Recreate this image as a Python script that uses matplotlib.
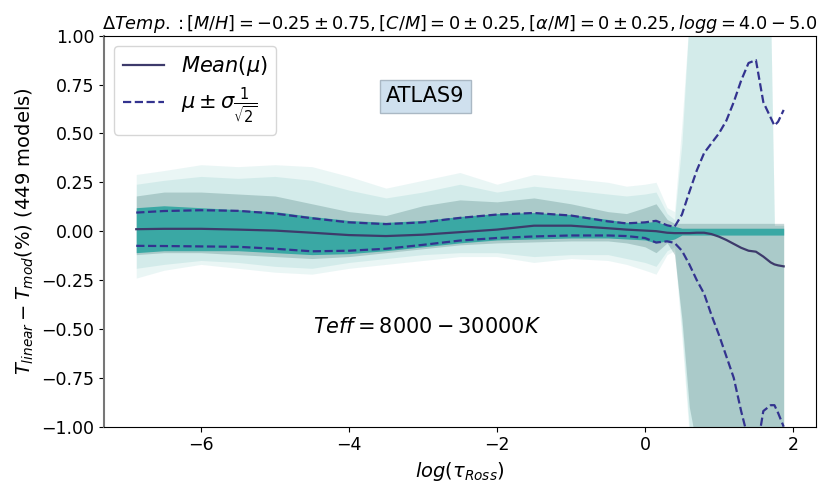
import matplotlib
matplotlib.use("Agg")
import matplotlib.pyplot as plt
import numpy as np

# log(tau_Ross) grid
log_tau = [-6.875, -6.5, -6.0, -5.5, -5.0, -4.5, -4.0, -3.5, -3.0, -2.5, -2.0,
           -1.5, -1.0, -0.5, -0.25, 0.0, 0.15, 0.3, 0.4, 0.5, 0.6, 0.7, 0.8,
           0.9, 1.0, 1.1, 1.2, 1.3, 1.4, 1.5, 1.6, 1.7, 1.75, 1.8, 1.875]

# mean and mean +/- sigma/sqrt(2)
mean_mu = [0.010, 0.012, 0.012, 0.008, 0.003, -0.008, -0.020, -0.025, -0.018,
           -0.005, 0.008, 0.028, 0.028, 0.015, 0.008, 0.003, 0.000, -0.008,
           -0.010, -0.010, -0.010, -0.008, -0.008, -0.015, -0.028, -0.045,
           -0.065, -0.085, -0.100, -0.105, -0.130, -0.160, -0.170, -0.175, -0.180]
mu_plus = [0.095, 0.103, 0.107, 0.104, 0.090, 0.066, 0.045, 0.036, 0.045,
           0.068, 0.085, 0.093, 0.080, 0.050, 0.040, 0.045, 0.053, 0.030,
           0.022, 0.085, 0.200, 0.310, 0.400, 0.450, 0.500, 0.565, 0.660,
           0.770, 0.860, 0.875, 0.660, 0.580, 0.540, 0.560, 0.620]
mu_minus = [-0.075, -0.076, -0.078, -0.080, -0.090, -0.103, -0.100, -0.090,
            -0.070, -0.048, -0.035, -0.027, -0.022, -0.022, -0.025, -0.035,
            -0.058, -0.052, -0.060, -0.100, -0.170, -0.250, -0.320, -0.430,
            -0.530, -0.640, -0.750, -0.920, -1.070, -1.150, -0.920, -0.890,
            -0.890, -0.930, -1.000]

# envelopes of the 449 model curves (outer faint, middle grey, dense core)
outer_hi = [0.29, 0.31, 0.34, 0.33, 0.34, 0.33, 0.28, 0.22, 0.26, 0.30, 0.24,
            0.29, 0.27, 0.25, 0.23, 0.24, 0.25, 0.12, 0.10, 0.55, 1.10, 1.10,
            1.10, 1.10, 1.10, 1.10, 1.10, 1.10, 1.10, 1.10, 1.10, 1.10, 0.03,
            0.03, 0.03]
outer_lo = [-0.24, -0.20, -0.17, -0.19, -0.21, -0.22, -0.19, -0.17, -0.15,
            -0.13, -0.13, -0.16, -0.14, -0.15, -0.17, -0.20, -0.22, -0.12,
            -0.10, -0.55, -1.05, -1.10, -1.10, -1.10, -1.10, -1.10, -1.10,
            -1.10, -1.10, -1.10, -1.10, -1.10, -1.10, -1.10, -1.10]
inner_hi = [0.24, 0.26, 0.28, 0.27, 0.28, 0.26, 0.21, 0.17, 0.20, 0.24, 0.20,
            0.23, 0.21, 0.19, 0.18, 0.19, 0.20, 0.09, 0.06, 0.45, 1.10, 1.10,
            1.10, 1.10, 1.10, 1.10, 1.10, 1.10, 1.10, 1.10, 1.10, 1.10, 0.03,
            0.03, 0.03]
inner_lo = [-0.19, -0.17, -0.15, -0.16, -0.18, -0.19, -0.16, -0.14, -0.12,
            -0.11, -0.11, -0.13, -0.12, -0.12, -0.14, -0.16, -0.18, -0.10,
            -0.08, -0.50, -1.00, -1.10, -1.10, -1.10, -1.10, -1.10, -1.10,
            -1.10, -1.10, -1.10, -1.10, -1.10, -1.10, -1.10, -1.10]
mid_hi = [0.18, 0.20, 0.20, 0.19, 0.18, 0.14, 0.10, 0.08, 0.13, 0.16, 0.15,
          0.17, 0.14, 0.10, 0.09, 0.12, 0.14, 0.06, 0.04, 0.04, 0.04, 0.04,
          0.04, 0.04, 0.04, 0.04, 0.04, 0.04, 0.04, 0.04, 0.04, 0.04, 0.04,
          0.04, 0.04]
mid_lo = [-0.12, -0.11, -0.11, -0.12, -0.13, -0.14, -0.13, -0.11, -0.09,
          -0.07, -0.06, -0.055, -0.05, -0.05, -0.06, -0.08, -0.11, -0.06,
          -0.12, -0.45, -0.90, -1.10, -1.10, -1.10, -1.10, -1.10, -1.10,
          -1.10, -1.10, -1.10, -1.10, -1.10, -1.10, -1.10, -1.10]
core_hi = [0.12, 0.13, 0.12, 0.11, 0.10, 0.075, 0.055, 0.045, 0.055, 0.075,
           0.09, 0.095, 0.085, 0.06, 0.045, 0.045, 0.05, 0.03, 0.025, 0.015,
           0.015, 0.015, 0.015, 0.015, 0.015, 0.015, 0.015, 0.015, 0.015,
           0.015, 0.015, 0.015, 0.015, 0.015, 0.015]
core_lo = [-0.11, -0.10, -0.10, -0.10, -0.11, -0.12, -0.115, -0.10, -0.08,
           -0.06, -0.045, -0.04, -0.035, -0.035, -0.04, -0.045, -0.06, -0.05,
           -0.04, -0.02, -0.02, -0.02, -0.02, -0.02, -0.02, -0.02, -0.02,
           -0.02, -0.02, -0.02, -0.02, -0.02, -0.02, -0.02, -0.02]

TEAL = "#3aa8a4"
GREY = "#5e8f8d"

fig = plt.figure(figsize=(8.31, 4.95), dpi=100)
ax = fig.add_axes([0.125, 0.138, 0.857, 0.79])

ax.fill_between(log_tau, outer_lo, outer_hi, color=TEAL, alpha=0.10, lw=0)
ax.fill_between(log_tau, inner_lo, inner_hi, color=TEAL, alpha=0.13, lw=0)
ax.fill_between(log_tau, mid_lo, mid_hi, color=GREY, alpha=0.35, lw=0)
ax.fill_between(log_tau, core_lo, core_hi, color=TEAL, alpha=1.0, lw=0)

ax.plot(log_tau, mean_mu, color="#3d3a6b", lw=1.6, label=r"$Mean(\mu)$")
ax.plot(log_tau, mu_plus, color="#33338f", lw=1.6, ls="--",
        label=r"$\mu \pm \sigma\frac{1}{\sqrt{2}}$")
ax.plot(log_tau, mu_minus, color="#33338f", lw=1.6, ls="--")

ax.set_xlim(-7.3125, 2.3125)
ax.set_ylim(-1.0, 1.0)
ax.set_yticks([-1.0, -0.75, -0.5, -0.25, 0.0, 0.25, 0.5, 0.75, 1.0])
ax.tick_params(labelsize=12.5)
ax.spines["left"].set_color("#777777")
ax.spines["left"].set_linewidth(1.5)

ax.set_xlabel(r"$log(\tau_{Ross})$", fontsize=14)
ax.set_ylabel(r"$T_{linear} - T_{mod}(\%)$ (449 models)", fontsize=14)
ax.set_title(r"$\Delta Temp.: [M/H]=-0.25 \pm 0.75, [C/M]=0 \pm 0.25, "
             r"[\alpha/M]=0 \pm 0.25, logg=4.0-5.0$", fontsize=12.8, pad=5)

ax.text(-2.97, 0.69, "ATLAS9", fontsize=15, ha="center", va="center",
        bbox=dict(boxstyle="square,pad=0.3", facecolor="#cfe0ee",
                  edgecolor="#aab8c4"))
ax.text(-2.95, -0.49, r"$Teff = 8000 - 30000K$", fontsize=15,
        ha="center", va="center")

ax.legend(loc="upper left", fontsize=15, handlelength=2.0, labelspacing=0.35)

fig.savefig("out.png", dpi=100)
